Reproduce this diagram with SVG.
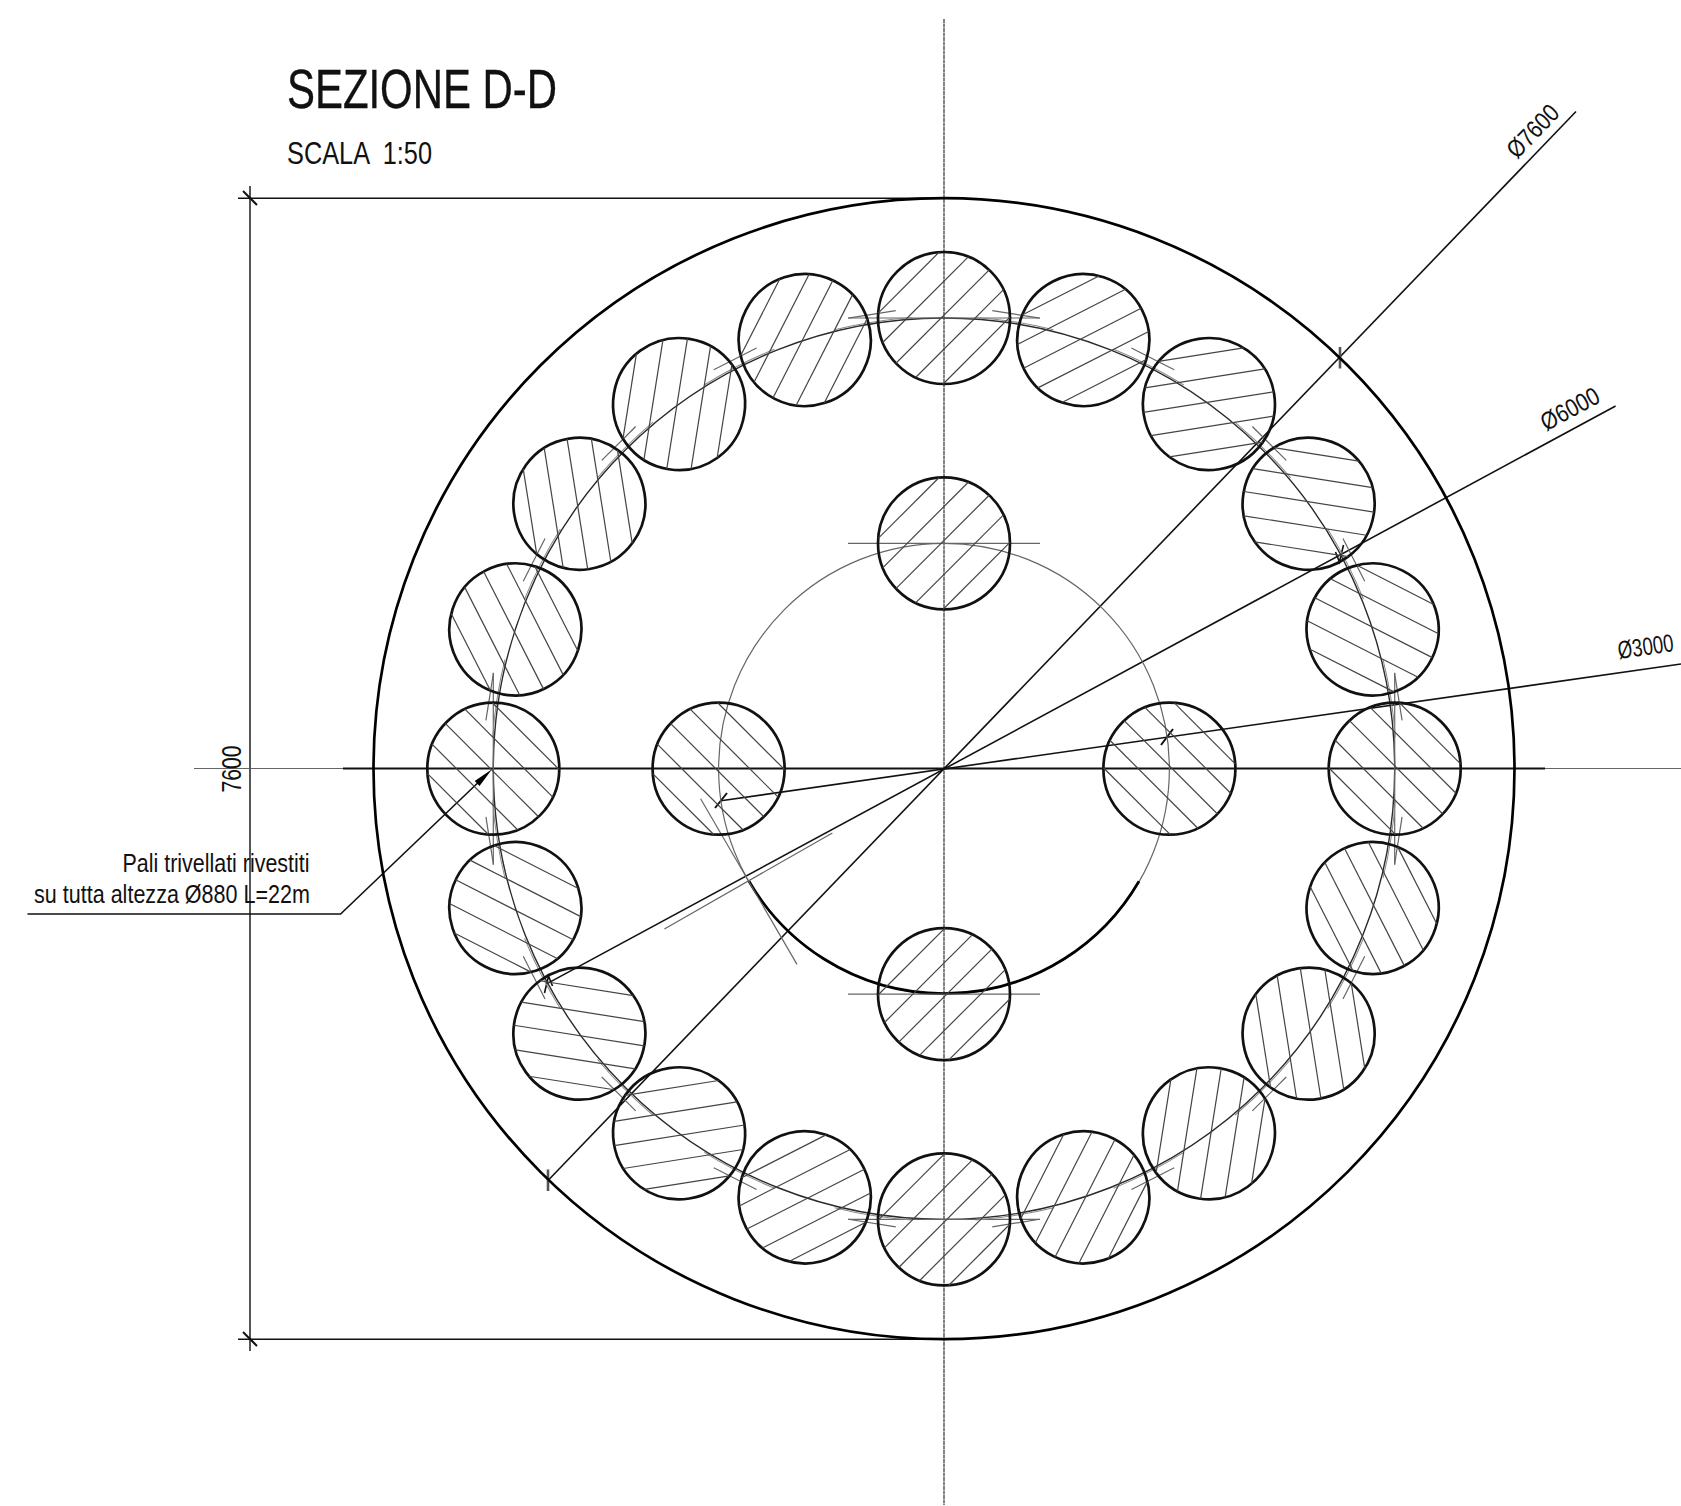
<svg xmlns="http://www.w3.org/2000/svg" xmlns:xlink="http://www.w3.org/1999/xlink" width="1681" height="1506" viewBox="0 0 1681 1506">
<style>
text{font-family:"Liberation Sans",Arial,sans-serif;fill:#111;white-space:pre}
.o{fill:none;stroke:#000;stroke-width:2.7}
.c{fill:none;stroke:#111;stroke-width:2.7}
.h{stroke:#444;stroke-width:1.2;fill:none}
.d{stroke:#111;stroke-width:1.6;fill:none}
.g{stroke:#666;stroke-width:1.2;fill:none}
.g2{stroke:#8a8a8a;stroke-width:1;fill:none}
.cl{stroke:#777;stroke-width:1.8;stroke-dasharray:4 0.5;fill:none}
.dm{stroke:#555;stroke-width:2;fill:none}
.t{stroke:#555;stroke-width:2.6;fill:none}
.r{fill:none;stroke:#2a2a2a;stroke-width:1.4}
.ri{fill:none;stroke:#666;stroke-width:1.2}
</style>
<defs>
<g id="pile">
<circle class="c" r="66"/>
<g class="h" transform="rotate(-45)">
<line x1="-43.1" x2="43.1" y1="-50" y2="-50"/>
<line x1="-60.7" x2="60.7" y1="-26" y2="-26"/>
<line x1="-66" x2="66" y1="-2" y2="-2"/>
<line x1="-62.2" x2="62.2" y1="22" y2="22"/>
<line x1="-47.3" x2="47.3" y1="46" y2="46"/>
</g>
</g>
<g id="tk">
<line class="g" x1="920" x2="968" y1="308.7" y2="308.7"/>
<path class="g2" d="M904.6 318A452.4 452.4 0 0 1 983.4 318"/>
</g>
</defs>
<rect width="1681" height="1506" fill="#fff"/>

<g id="titles">
<text x="287" y="108" font-size="55" textLength="270" lengthAdjust="spacingAndGlyphs" stroke="#111" stroke-width="0.4">SEZIONE D-D</text>
<text x="287" y="164" font-size="31" textLength="145" lengthAdjust="spacingAndGlyphs">SCALA  1:50</text>
</g>

<g id="connectors">
<line class="cl" x1="944" y1="19" x2="944" y2="1505"/>
<line class="g" x1="194" y1="768.5" x2="343" y2="768.5"/>
<line class="g" x1="1545" y1="768.5" x2="1681" y2="768.5"/>
<line class="d" style="stroke-width:2" x1="343" y1="768.5" x2="1545" y2="768.5"/>

<line class="dm" x1="250" y1="186" x2="250" y2="1351"/>
<line class="d" x1="238" y1="198.2" x2="944" y2="198.2"/>
<line class="d" x1="238" y1="1339.2" x2="944" y2="1339.2"/>
<line class="d" style="stroke-width:2" x1="243" y1="191" x2="257" y2="205"/>
<line class="d" style="stroke-width:2" x1="243" y1="1332" x2="257" y2="1346"/>

<line class="d" x1="548" y1="1180.5" x2="1576" y2="111.5"/>
<line class="t" x1="548" y1="1169.5" x2="548" y2="1191"/>
<line class="t" x1="1340" y1="347" x2="1340" y2="368.5"/>

<line class="d" x1="547.5" y1="983.4" x2="1615.6" y2="406"/>
<path class="d" d="M544.5 993L548.5 976L552.5 986"/>
<path class="d" d="M1343.5 545L1339.5 562L1335.5 552"/>

<line class="d" x1="721" y1="800.7" x2="1681" y2="664"/>
<line class="d" style="stroke-width:2" x1="715" y1="808" x2="727" y2="793"/>
<line class="d" style="stroke-width:2" x1="1173" y1="729" x2="1161" y2="745"/>

<path class="d" d="M27.5 914H340.6L485 776"/>
<polygon points="492,769.3 479.5,786 474.7,781" fill="#000"/>

<circle class="r" cx="944" cy="768.7" r="450.7"/>
<circle class="ri" cx="944" cy="768.7" r="225.4"/>
<path class="o" d="M1139 881.2A225.4 225.4 0 0 1 749 881.2"/>

<g id="construction">
<line class="g" x1="848" x2="1040" y1="318" y2="318"/>
<line class="g" x1="848" x2="1040" y1="1219.4" y2="1219.4"/>
<line class="g" x1="848" x2="1040" y1="543.3" y2="543.3"/>
<line class="g" x1="848" x2="1040" y1="994.1" y2="994.1"/>
<line class="g" x1="1394.7" x2="1394.7" y1="672.7" y2="864.7"/>
<line class="g" x1="493.3" x2="493.3" y1="672.7" y2="864.7"/>
<line class="g" x1="700.6" y1="798.7" x2="797" y2="964.4"/>
<line class="g" x1="664.4" y1="929" x2="832.4" y2="832.9"/>
</g>
<g id="ring-ticks">
<use href="#tk" transform="rotate(9 944 768.7)"/>
<use href="#tk" transform="rotate(27 944 768.7)"/>
<use href="#tk" transform="rotate(45 944 768.7)"/>
<use href="#tk" transform="rotate(63 944 768.7)"/>
<use href="#tk" transform="rotate(81 944 768.7)"/>
<use href="#tk" transform="rotate(99 944 768.7)"/>
<use href="#tk" transform="rotate(117 944 768.7)"/>
<use href="#tk" transform="rotate(135 944 768.7)"/>
<use href="#tk" transform="rotate(153 944 768.7)"/>
<use href="#tk" transform="rotate(171 944 768.7)"/>
<use href="#tk" transform="rotate(189 944 768.7)"/>
<use href="#tk" transform="rotate(207 944 768.7)"/>
<use href="#tk" transform="rotate(225 944 768.7)"/>
<use href="#tk" transform="rotate(243 944 768.7)"/>
<use href="#tk" transform="rotate(261 944 768.7)"/>
<use href="#tk" transform="rotate(279 944 768.7)"/>
<use href="#tk" transform="rotate(297 944 768.7)"/>
<use href="#tk" transform="rotate(315 944 768.7)"/>
<use href="#tk" transform="rotate(333 944 768.7)"/>
<use href="#tk" transform="rotate(351 944 768.7)"/>
</g>
</g>

<circle id="outer-wall" class="o" cx="944" cy="768.7" r="570.5"/>

<g id="pile-00"><use href="#pile" transform="rotate(0 944 768.7) translate(944 318)"/></g>
<g id="pile-01"><use href="#pile" transform="rotate(18 944 768.7) translate(944 318)"/></g>
<g id="pile-02"><use href="#pile" transform="rotate(36 944 768.7) translate(944 318)"/></g>
<g id="pile-03"><use href="#pile" transform="rotate(54 944 768.7) translate(944 318)"/></g>
<g id="pile-04"><use href="#pile" transform="rotate(72 944 768.7) translate(944 318)"/></g>
<g id="pile-05"><use href="#pile" transform="rotate(90 944 768.7) translate(944 318)"/></g>
<g id="pile-06"><use href="#pile" transform="rotate(108 944 768.7) translate(944 318)"/></g>
<g id="pile-07"><use href="#pile" transform="rotate(126 944 768.7) translate(944 318)"/></g>
<g id="pile-08"><use href="#pile" transform="rotate(144 944 768.7) translate(944 318)"/></g>
<g id="pile-09"><use href="#pile" transform="rotate(162 944 768.7) translate(944 318)"/></g>
<g id="pile-10"><use href="#pile" transform="rotate(180 944 768.7) translate(944 318)"/></g>
<g id="pile-11"><use href="#pile" transform="rotate(198 944 768.7) translate(944 318)"/></g>
<g id="pile-12"><use href="#pile" transform="rotate(216 944 768.7) translate(944 318)"/></g>
<g id="pile-13"><use href="#pile" transform="rotate(234 944 768.7) translate(944 318)"/></g>
<g id="pile-14"><use href="#pile" transform="rotate(252 944 768.7) translate(944 318)"/></g>
<g id="pile-15"><use href="#pile" transform="rotate(270 944 768.7) translate(944 318)"/></g>
<g id="pile-16"><use href="#pile" transform="rotate(288 944 768.7) translate(944 318)"/></g>
<g id="pile-17"><use href="#pile" transform="rotate(306 944 768.7) translate(944 318)"/></g>
<g id="pile-18"><use href="#pile" transform="rotate(324 944 768.7) translate(944 318)"/></g>
<g id="pile-19"><use href="#pile" transform="rotate(342 944 768.7) translate(944 318)"/></g>

<g id="inner-pile-top"><use href="#pile" transform="translate(944 543.3)"/></g>
<g id="inner-pile-right"><use href="#pile" transform="translate(1169.4 768.7) rotate(90)"/></g>
<g id="inner-pile-bottom"><use href="#pile" transform="translate(944 994.1) rotate(180)"/></g>
<g id="inner-pile-left"><use href="#pile" transform="translate(718.6 768.7) rotate(270)"/></g>

<g id="labels">
<text transform="translate(241 769) rotate(-90)" text-anchor="middle" font-size="27.5" textLength="47" lengthAdjust="spacingAndGlyphs">7600</text>
<text x="122.5" y="871.7" font-size="25" textLength="187" lengthAdjust="spacingAndGlyphs">Pali trivellati rivestiti</text>
<text x="34" y="902.7" font-size="25" textLength="276" lengthAdjust="spacingAndGlyphs">su tutta altezza Ø880 L=22m</text>
<text transform="translate(1539 137) rotate(-46)" text-anchor="middle" font-size="25" textLength="63" lengthAdjust="spacingAndGlyphs">Ø7600</text>
<text transform="translate(1574 416.4) rotate(-28.4)" text-anchor="middle" font-size="25" textLength="63" lengthAdjust="spacingAndGlyphs">Ø6000</text>
<text transform="translate(1619 659) rotate(-8.1)" font-size="25" textLength="56" lengthAdjust="spacingAndGlyphs">Ø3000</text>
</g>
</svg>
